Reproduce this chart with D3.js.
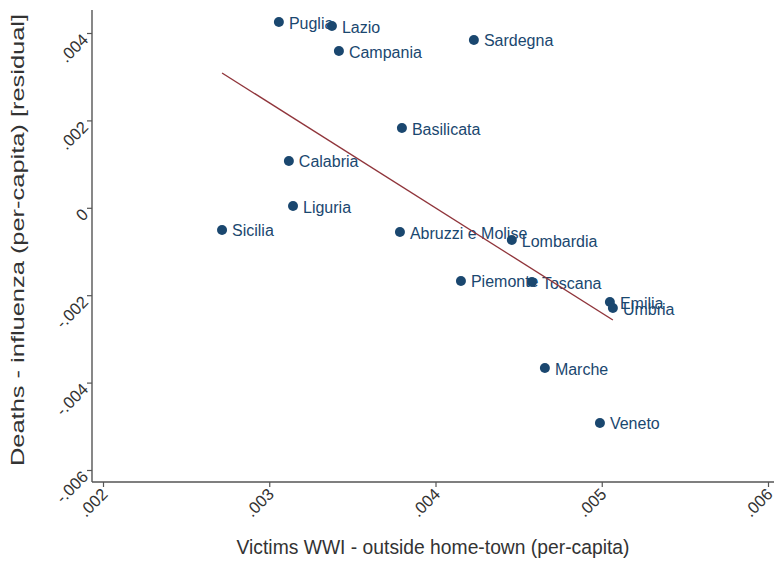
<!DOCTYPE html>
<html>
<head>
<meta charset="utf-8">
<script src="https://cdn.jsdelivr.net/npm/d3@7"></script>
<style>
  html, body { margin: 0; padding: 0; background: #fff; }
  svg { display: block; font-family: "Liberation Sans", Arial, Helvetica, sans-serif; }
</style>
</head>
<body>
<svg id="chart" width="774" height="562"></svg>
<script>
// Regions of Italy: WWI victims outside home town vs. influenza deaths (residual)
const regions = ["Puglia", "Lazio", "Campania", "Sardegna", "Basilicata", "Calabria",
  "Liguria", "Sicilia", "Abruzzi e Molise", "Lombardia", "Piemonte", "Toscana",
  "Emilia", "Umbria", "Marche", "Veneto"];
const victims = [0.003058, 0.003377, 0.003419, 0.004231, 0.003798, 0.003118,
  0.003143, 0.002716, 0.003786, 0.004459, 0.004153, 0.004580,
  0.005049, 0.005067, 0.004658, 0.004989];
const deathsResidual = [0.00425, 0.00416, 0.003588, 0.00384, 0.001826, 0.001071,
  0.00004, -0.000508, -0.000554, -0.000737, -0.001675, -0.001698,
  -0.002156, -0.002293, -0.003666, -0.004924];

// Fitted line endpoints
const fitX = [0.002716, 0.005067];
const fitY = [0.003085, -0.002568];

const xTicks = [0.002, 0.003, 0.004, 0.005, 0.006];
const xTickLabels = [".002", ".003", ".004", ".005", ".006"];
const yTicks = [-0.006, -0.004, -0.002, 0, 0.002, 0.004];
const yTickLabels = ["-.006", "-.004", "-.002", "0", ".002", ".004"];

const xTitle = "Victims WWI - outside home-town (per-capita)";
const yTitle = "Deaths - influenza (per-capita) [residual]";

const svg = d3.select("#chart");
const plot = { left: 92, right: 774, top: 10, bottom: 482 };

const x = d3.scaleLinear().domain([0.002, 0.006]).range([103, 768]);
const y = d3.scaleLinear().domain([-0.006, 0.004]).range([470, 33]);

const navy = "#1a476f";
const axisColor = "#555";
const textColor = "#333";

// Axis lines
svg.append("line")
  .attr("x1", plot.left).attr("x2", plot.left)
  .attr("y1", plot.top).attr("y2", plot.bottom)
  .attr("stroke", axisColor).attr("stroke-width", 1.4);
svg.append("line")
  .attr("x1", plot.left).attr("x2", plot.right)
  .attr("y1", plot.bottom).attr("y2", plot.bottom)
  .attr("stroke", axisColor).attr("stroke-width", 1.4);

// Y axis
const yAxis = d3.axisLeft(y)
  .tickValues(yTicks)
  .tickSize(5)
  .tickFormat((d, i) => yTickLabels[i]);
const gy = svg.append("g").attr("transform", `translate(${plot.left},0)`).call(yAxis);
gy.select(".domain").remove();
gy.selectAll(".tick line").attr("stroke", axisColor).attr("stroke-width", 1.2);
gy.selectAll(".tick text")
  .attr("x", null).attr("dy", null)
  .attr("font-size", 16.5).attr("fill", textColor)
  .attr("text-anchor", "end")
  .attr("transform", "translate(-7,3) rotate(-45)")
  .attr("dominant-baseline", "central");

// X axis
const xAxis = d3.axisBottom(x)
  .tickValues(xTicks)
  .tickSize(5)
  .tickFormat((d, i) => xTickLabels[i]);
const gx = svg.append("g").attr("transform", `translate(0,${plot.bottom})`).call(xAxis);
gx.select(".domain").remove();
gx.selectAll(".tick line").attr("stroke", axisColor).attr("stroke-width", 1.2);
gx.selectAll(".tick text")
  .attr("y", null).attr("dy", null)
  .attr("font-size", 16.5).attr("fill", textColor)
  .attr("text-anchor", "end")
  .attr("transform", "translate(1,9) rotate(-45)")
  .attr("dominant-baseline", "central");

// Axis titles
svg.append("text")
  .attr("x", 433).attr("y", 554)
  .attr("text-anchor", "middle")
  .attr("font-size", 19.3).attr("fill", textColor)
  .text(xTitle);
svg.append("text")
  .attr("transform", "translate(24,240) rotate(-90)")
  .attr("text-anchor", "middle")
  .attr("font-size", 18).attr("fill", textColor)
  .attr("textLength", 452)
  .attr("lengthAdjust", "spacingAndGlyphs")
  .text(yTitle);

const data = regions.map((r, i) => ({ name: r, vx: victims[i], vy: deathsResidual[i] }));

// Point labels (drawn first so markers sit on top)
svg.append("g").selectAll("text").data(data).join("text")
  .attr("x", d => x(d.vx) + 10)
  .attr("y", d => y(d.vy) + 1)
  .attr("dominant-baseline", "central")
  .attr("font-size", 16).attr("fill", navy)
  .text(d => d.name);

// Markers
svg.append("g").selectAll("circle").data(data).join("circle")
  .attr("cx", d => x(d.vx))
  .attr("cy", d => y(d.vy))
  .attr("r", 5)
  .attr("fill", navy);

// Fitted line
const fit = fitX.map((v, i) => [v, fitY[i]]);
svg.append("path")
  .datum(fit)
  .attr("d", d3.line().x(d => x(d[0])).y(d => y(d[1])))
  .attr("fill", "none")
  .attr("stroke", "#90353b")
  .attr("stroke-width", 1.4);
</script>
</body>
</html>
